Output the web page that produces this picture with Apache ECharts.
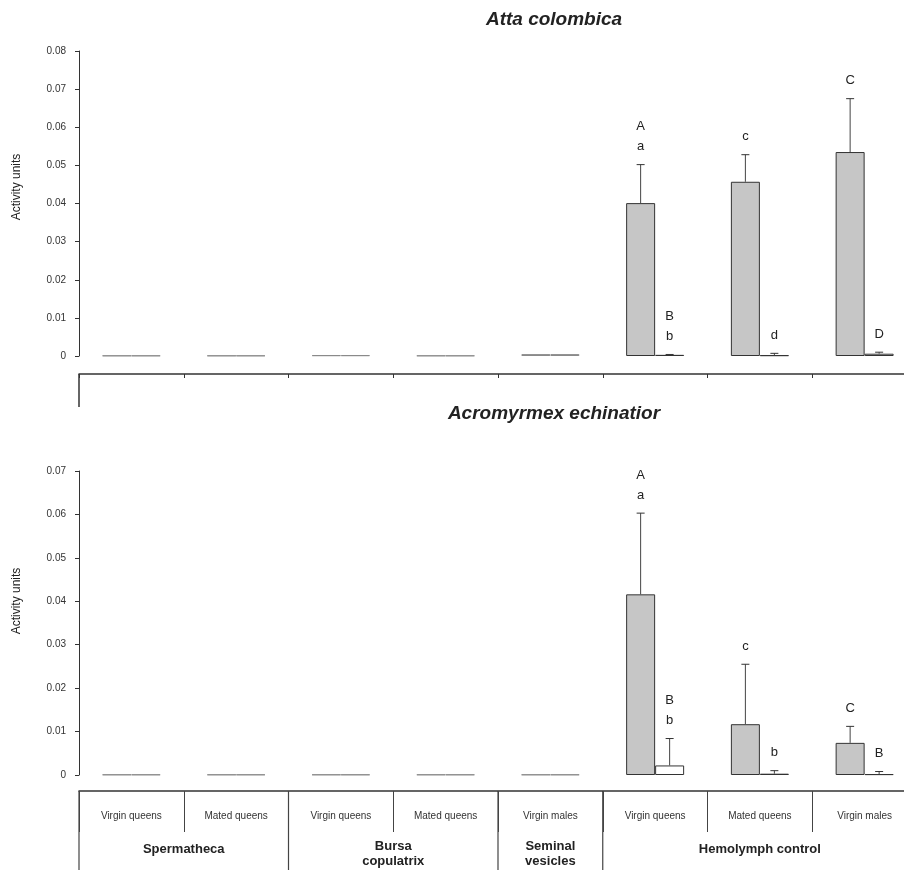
<!DOCTYPE html>
<html>
<head>
<meta charset="utf-8">
<script src="https://cdn.jsdelivr.net/npm/echarts@6/dist/echarts.min.js"></script>
<style>
  * { margin: 0; padding: 0; }
  body { background: #fff; }
  #chart-container { width: 904px; height: 870px; }
</style>
</head>
<body>
<div id="chart-container"></div>
<script>
  // categories and groups of the shared table
  var categories = ['Virgin queens', 'Mated queens', 'Virgin queens', 'Mated queens', 'Virgin males',
    'Virgin queens', 'Mated queens', 'Virgin males']
  var groupNames = ['Spermatheca', 'Bursa\ncopulatrix', 'Seminal\nvesicles', 'Hemolymph control']
  var groupSpans = [2, 2, 1, 3]

  // Atta colombica (top panel)
  var attaGray = [0.0001, 0.0001, 0.0002, 0.0001, 0.0005, 0.0401, 0.0457, 0.0535]
  var attaWhite = [0.0001, 0.0001, 0.0002, 0.0001, 0.0005, 0.0003, 0.0002, 0.0006]
  var attaGrayErr = [null, null, null, null, null, 0.0502, 0.0528, 0.0675]
  var attaWhiteErr = [null, null, null, null, null, 0.0004, 0.0007, 0.0010]
  var attaGrayLetters = ['', '', '', '', '', 'A\na', 'c', 'C']
  var attaWhiteLetters = ['', '', '', '', '', 'B\nb', 'd', 'D']

  // Acromyrmex echinatior (bottom panel)
  var acroGray = [0.0001, 0.0001, 0.0001, 0.0001, 0.0001, 0.0416, 0.0117, 0.0074]
  var acroWhite = [0.0001, 0.0001, 0.0001, 0.0001, 0.0001, 0.0022, 0.0003, 0.0002]
  var acroGrayErr = [null, null, null, null, null, 0.0603, 0.0255, 0.0112]
  var acroWhiteErr = [null, null, null, null, null, 0.0084, 0.0010, 0.0008]
  var acroGrayLetters = ['', '', '', '', '', 'A\na', 'c', 'C']
  var acroWhiteLetters = ['', '', '', '', '', 'B\nb', 'b', 'B']

  var FONT = 'Liberation Sans, Arial, sans-serif'
  var BAR_W = 29

  var chart = echarts.init(document.getElementById('chart-container'), null, { renderer: 'canvas' })

  function barData(values, errs, fill) {
    return values.map(function (v, i) {
      var noErr = errs[i] == null
      return {
        value: v,
        itemStyle: {
          color: noErr ? '#bbb' : fill,
          borderColor: noErr ? '#8a8a8a' : '#333',
          borderWidth: 1,
        },
      }
    })
  }

  function errSeries(gridIdx, values, errs, letters, side) {
    var data = []
    values.forEach(function (v, i) {
      if (errs[i] != null) data.push([i, v, errs[i], letters[i]])
    })
    return {
      type: 'custom',
      xAxisIndex: gridIdx,
      yAxisIndex: gridIdx,
      z: 5,
      data: data.map(function (d) { return [d[0], d[1], d[2]] }),
      renderItem: function (params, api) {
        var idx = api.value(0)
        var base = api.coord([idx, api.value(1)])
        var top = api.coord([idx, api.value(2)])
        var x = base[0] + side * BAR_W / 2
        var letter = data[params.dataIndex][3]
        return {
          type: 'group',
          children: [
            { type: 'line', shape: { x1: x, y1: base[1], x2: x, y2: top[1] }, style: { stroke: '#444', lineWidth: 1 } },
            { type: 'line', shape: { x1: x - 4, y1: top[1], x2: x + 4, y2: top[1] }, style: { stroke: '#333', lineWidth: 1 } },
            {
              type: 'text',
              x: x,
              y: top[1] - 8,
              style: {
                text: letter, fill: '#222', font: '13px ' + FONT,
                align: 'center', verticalAlign: 'bottom', lineHeight: 20,
              },
            },
          ],
        }
      },
    }
  }

  function yAxis(gridIdx, max) {
    return {
      type: 'value',
      gridIndex: gridIdx,
      min: 0,
      max: max,
      interval: 0.01,
      splitLine: { show: false },
      axisLine: { show: true, lineStyle: { color: '#333', width: 1 } },
      axisTick: { show: true, length: 4, lineStyle: { color: '#333' } },
      axisLabel: { fontSize: 10, color: '#333', margin: 13, fontFamily: FONT },
    }
  }

  var option = {
    animation: false,
    backgroundColor: '#fff',
    grid: [
      { left: 79, width: 838, top: 51, height: 305, outerBoundsMode: 'none' },
      { left: 79, width: 838, top: 471, height: 304, outerBoundsMode: 'none' },
    ],
    xAxis: [
      {
        type: 'category', gridIndex: 0, data: categories, offset: 18,
        axisLine: { onZero: false, lineStyle: { color: '#333', width: 1.5 } },
        axisTick: { show: true, length: 4, lineStyle: { color: '#333' } },
        axisLabel: { show: false },
      },
      {
        type: 'category', gridIndex: 1, data: categories, offset: 16,
        axisLine: { onZero: false, lineStyle: { color: '#333', width: 1.5 } },
        axisTick: { show: true, length: 41, lineStyle: { color: '#444' } },
        axisLabel: { interval: 0, fontSize: 10, color: '#333', margin: 20, fontFamily: FONT },
      },
    ],
    yAxis: [yAxis(0, 0.08), yAxis(1, 0.07)],
    series: [
      { type: 'bar', xAxisIndex: 0, yAxisIndex: 0, barWidth: BAR_W, barGap: '0%', data: barData(attaGray, attaGrayErr, '#c6c6c6') },
      { type: 'bar', xAxisIndex: 0, yAxisIndex: 0, barWidth: BAR_W, barGap: '0%', data: barData(attaWhite, attaWhiteErr, '#fff') },
      { type: 'bar', xAxisIndex: 1, yAxisIndex: 1, barWidth: BAR_W, barGap: '0%', data: barData(acroGray, acroGrayErr, '#c6c6c6') },
      { type: 'bar', xAxisIndex: 1, yAxisIndex: 1, barWidth: BAR_W, barGap: '0%', data: barData(acroWhite, acroWhiteErr, '#fff') },
      errSeries(0, attaGray, attaGrayErr, attaGrayLetters, -1),
      errSeries(0, attaWhite, attaWhiteErr, attaWhiteLetters, 1),
      errSeries(1, acroGray, acroGrayErr, acroGrayLetters, -1),
      errSeries(1, acroWhite, acroWhiteErr, acroWhiteLetters, 1),
    ],
  }
  chart.setOption(option)

  // table decoration, titles and axis names
  var c0 = chart.convertToPixel({ xAxisIndex: 1 }, 0)
  var c1 = chart.convertToPixel({ xAxisIndex: 1 }, 1)
  var band = c1 - c0
  var topAxisY = chart.convertToPixel({ yAxisIndex: 0 }, 0) + 18
  var tableY = chart.convertToPixel({ yAxisIndex: 1 }, 0) + 16
  var graphics = []
  graphics.push({ type: 'line', shape: { x1: c0 - band / 2, y1: topAxisY, x2: c0 - band / 2, y2: topAxisY + 33 }, style: { stroke: '#333', lineWidth: 1.5 } })
  var start = 0
  groupSpans.forEach(function (span, g) {
    var left = c0 - band / 2 + start * band
    var mid = left + span * band / 2
    graphics.push({ type: 'line', shape: { x1: left, y1: tableY, x2: left, y2: 870 }, style: { stroke: '#444', lineWidth: 1.2 } })
    var twoLines = groupNames[g].indexOf('\n') >= 0
    graphics.push({
      type: 'text', x: mid, y: twoLines ? 854 : 849,
      style: { text: groupNames[g], fill: '#222', font: 'bold 13px ' + FONT, align: 'center', verticalAlign: 'middle', lineHeight: 15 },
    })
    start += span
  })
  graphics.push({ type: 'text', x: 554, y: 20, style: { text: 'Atta colombica', fill: '#222', font: 'italic bold 19px ' + FONT, align: 'center', verticalAlign: 'middle' } })
  graphics.push({ type: 'text', x: 554, y: 414, style: { text: 'Acromyrmex echinatior', fill: '#222', font: 'italic bold 19px ' + FONT, align: 'center', verticalAlign: 'middle' } })
  graphics.push({ type: 'text', x: 17, y: 187, rotation: Math.PI / 2, style: { text: 'Activity units', fill: '#222', font: '12px ' + FONT, align: 'center', verticalAlign: 'middle' } })
  graphics.push({ type: 'text', x: 17, y: 601, rotation: Math.PI / 2, style: { text: 'Activity units', fill: '#222', font: '12px ' + FONT, align: 'center', verticalAlign: 'middle' } })
  chart.setOption({ graphic: graphics })

  window.addEventListener('resize', chart.resize)
</script>
</body>
</html>
